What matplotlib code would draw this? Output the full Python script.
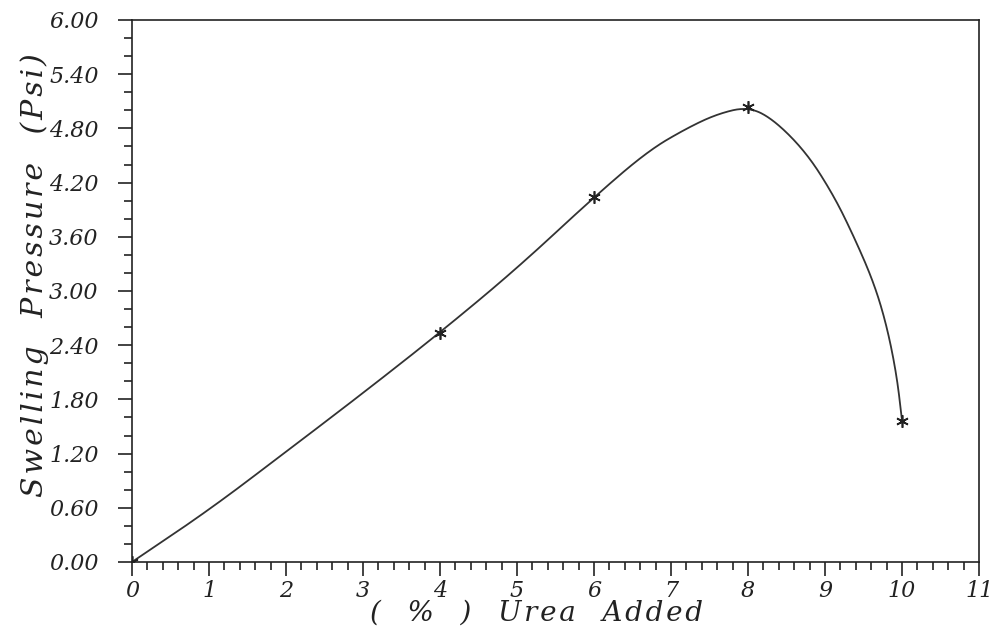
import numpy as np
import matplotlib
matplotlib.use("Agg")
import matplotlib.pyplot as plt
from matplotlib.ticker import MultipleLocator, FormatStrFormatter

# measured points (asterisks)
urea = [0, 4, 6, 8, 10]
pressure = [0.0, 2.54, 4.04, 5.04, 1.56]

# trace of the smooth curve
trace_x = [0, 1, 2, 3, 4, 5, 6, 6.7, 7.2, 7.6, 8,
           8.33, 8.76, 9.11, 9.37, 9.63, 9.80, 9.93, 10]
trace_y = [0.0, 0.575, 1.22, 1.87, 2.54, 3.25, 4.04, 4.55, 4.80, 4.96, 5.04,
           4.90, 4.53, 4.06, 3.61, 3.10, 2.62, 2.07, 1.56]

x_ticks = list(range(0, 12))
y_ticks = [0.0, 0.6, 1.2, 1.8, 2.4, 3.0, 3.6, 4.2, 4.8, 5.4, 6.0]


def chaikin(xs, ys, rounds=5):
    # corner cutting: turns the traced polyline into a smooth curve
    pts = np.column_stack([xs, ys]).astype(float)
    for _ in range(rounds):
        a = pts[:-1]
        b = pts[1:]
        q = 0.75 * a + 0.25 * b
        r = 0.25 * a + 0.75 * b
        mid = np.empty((2 * len(a), 2))
        mid[0::2] = q
        mid[1::2] = r
        pts = np.vstack([pts[:1], mid, pts[-1:]])
    return pts[:, 0], pts[:, 1]


line_x, line_y = chaikin(trace_x, trace_y)

serif = "DejaVu Serif"
ink = "#222222"
hs = "\u200a"  # hair space, to spread the label letters like the original


def spread(s):
    return "   ".join(hs.join(w) for w in s.split(" "))


fig = plt.figure(figsize=(9.95, 6.4), dpi=100)
ax = fig.add_axes([0.1327, 0.1219, 0.8513, 0.8469])

ax.plot(line_x, line_y, color="#333333", lw=1.3)
ax.plot(urea, pressure, linestyle="none", marker=(6, 2, 0), markersize=9,
        color=ink, markeredgewidth=1.2)

ax.set_xlim(0, 11)
ax.set_ylim(0, 6)
ax.set_xticks(x_ticks)
ax.set_yticks(y_ticks)
ax.xaxis.set_minor_locator(MultipleLocator(0.2))
ax.yaxis.set_minor_locator(MultipleLocator(0.2))
ax.yaxis.set_major_formatter(FormatStrFormatter("%.2f"))

ax.tick_params(which="both", direction="out", top=False, right=False,
               color=ink, width=1.2)
ax.tick_params(axis="x", which="major", length=10, pad=3)
ax.tick_params(axis="y", which="major", length=10, pad=14)
ax.tick_params(which="minor", length=6)
for lab in ax.get_xticklabels() + ax.get_yticklabels():
    lab.set_fontfamily(serif)
    lab.set_fontstyle("italic")
    lab.set_fontsize(16)
    lab.set_color(ink)

for sp in ax.spines.values():
    sp.set_linewidth(1.2)
    sp.set_color(ink)

ax.set_xlabel("(   %   )   " + spread("Urea Added"), fontfamily=serif, fontstyle="italic",
              fontsize=20, color=ink)
ax.set_ylabel(spread("Swelling Pressure (Psi)"),
              fontfamily=serif, fontstyle="italic", fontsize=21.5, color=ink)
ax.xaxis.set_label_coords(0.478, -0.07)
ax.yaxis.set_label_coords(-0.098, 0.53)

fig.savefig("out.png", dpi=100)
